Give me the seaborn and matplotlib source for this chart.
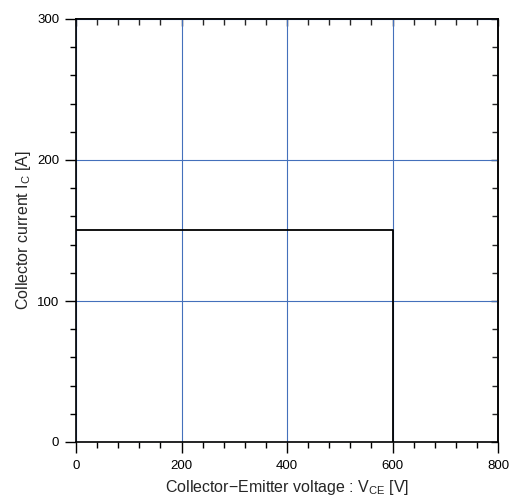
import numpy as np
import pandas as pd
import matplotlib.pyplot as plt
import seaborn as sns
from matplotlib.ticker import MultipleLocator

# --- data: safe operating area boundary ---
vce = [0, 600, 600]
ic = [150, 150, 0]
df = pd.DataFrame({'vce': vce, 'ic': ic})

xticks = [0, 200, 400, 600, 800]
yticks = [0, 100, 200, 300]

sns.set_style('white')
plt.rcParams['font.family'] = ['Liberation Sans', 'DejaVu Sans']
plt.rcParams['mathtext.fontset'] = 'custom'
plt.rcParams['mathtext.rm'] = 'Liberation Sans'

fig = plt.figure(figsize=(5.16, 5.0), dpi=100)
ax = fig.add_axes([76 / 516, 1 - 442 / 500, 422 / 516, 423 / 500])

sns.lineplot(data=df, x='vce', y='ic', sort=False, estimator=None,
             color='black', linewidth=1.3, ax=ax, zorder=3)

ax.set_xlim(0, 800)
ax.set_ylim(0, 300)
ax.set_xticks(xticks)
ax.set_yticks(yticks)
ax.xaxis.set_minor_locator(MultipleLocator(40))
ax.yaxis.set_minor_locator(MultipleLocator(20))

ax.grid(True, which='major', color='#4470bb', linewidth=0.8, zorder=1)

# left/bottom ticks point outward
ax.tick_params(which='both', direction='out', colors='black', labelsize=9.5,
               bottom=True, left=True, top=False, right=False)
ax.tick_params(which='major', length=8, width=1)
ax.tick_params(which='minor', length=4, width=1)
ax.xaxis.set_tick_params(pad=5)
ax.yaxis.set_tick_params(pad=4)

# top/right ticks point inward, no labels
top = ax.secondary_xaxis('top')
top.set_xticks(xticks)
top.xaxis.set_minor_locator(MultipleLocator(40))
top.tick_params(which='both', direction='in', top=True, labeltop=False)
top.tick_params(which='major', length=5, width=1)
top.tick_params(which='minor', length=4, width=1)
right = ax.secondary_yaxis('right')
right.set_yticks(yticks)
right.yaxis.set_minor_locator(MultipleLocator(20))
right.tick_params(which='both', direction='in', right=True, labelright=False)
right.tick_params(which='major', length=5, width=1)
right.tick_params(which='minor', length=4, width=1)
for a in (top, right):
    for s in a.spines.values():
        s.set_linewidth(1.2)

for s in ax.spines.values():
    s.set_color('black')
    s.set_linewidth(1.2)
    s.set_zorder(4)

ax.set_xlabel(r'Collector−Emitter voltage : V$_{\mathrm{CE}}$ [V]', fontsize=11.5, labelpad=4)
ax.set_ylabel(r'Collector current I$_{\mathrm{C}}$ [A]', fontsize=11.5, labelpad=3)

plt.savefig('out.png', dpi=100)
